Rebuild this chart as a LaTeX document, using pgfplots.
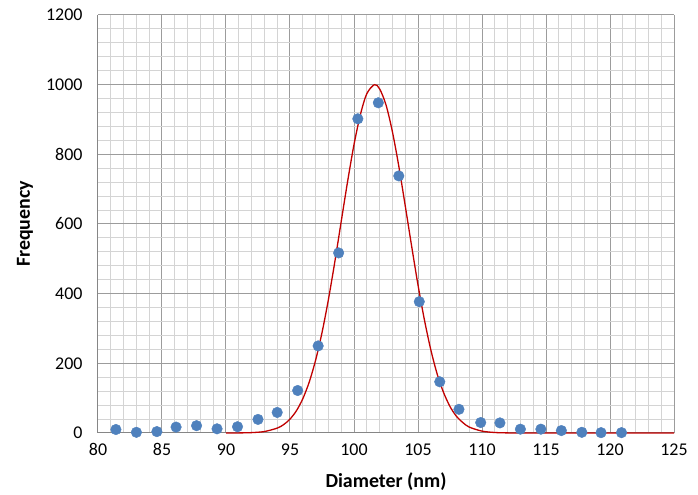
\documentclass[border=0pt]{standalone}
\usepackage{pgfplots}
\pgfplotsset{compat=1.18}
\usepackage{fontspec}
\setmainfont{Carlito}

\definecolor{dotblue}{HTML}{4F81BD}
\definecolor{fitred}{HTML}{C00000}
\definecolor{majgrid}{HTML}{9C9C9C}
\definecolor{mingrid}{HTML}{D4D4D4}
\definecolor{axisgray}{HTML}{868686}

\begin{document}
\begin{tikzpicture}
% page frame
\path (-98bp,-60bp) rectangle (600bp,433bp);
\begin{axis}[
  at={(0,0)}, anchor=south west,
  scale only axis,
  width=576bp, height=418bp,
  xmin=80, xmax=125, ymin=0, ymax=1200,
  xtick={80,85,...,125},
  ytick={0,200,...,1200},
  minor x tick num=4,
  minor y tick num=4,
  major tick length=0pt, minor tick length=0pt,
  grid=both,
  major grid style={majgrid, line width=1bp},
  minor grid style={mingrid, line width=1bp},
  axis x line*=bottom, axis y line*=left,
  axis line style={axisgray, line width=1bp, -},
  /pgf/number format/assume math mode=true,
  /pgf/number format/1000 sep={},
  ticklabel style={font=\fontsize{18}{21}\selectfont, text=black},
  xticklabel style={yshift=-7bp},
  yticklabel style={xshift=-12bp},
  xlabel={\textbf{Diameter (nm)}},
  ylabel={\textbf{Frequency}},
  label style={font=\fontsize{20}{24}\selectfont},
  xlabel style={at={(axis description cs:0.5,-0.1172)}, anchor=center},
  ylabel style={at={(axis description cs:-0.1267,0.5)}, anchor=center, rotate=0},
  clip=false,
]
% fitted distribution
\addplot[fitred, line width=1.3bp, smooth, no markers] coordinates {
  (90,0.05) (91,0.25) (92,1.1) (93,4.2) (94,14.0) (94.5,24.0) (95,39.9)
  (95.5,63.8) (96,98.3) (96.5,146) (97,209) (97.5,288) (98,383) (98.5,491)
  (99,607) (99.5,722) (100,828) (100.5,914) (101,974) (101.6,1000)
  (102,988) (102.5,942) (103,865) (103.5,766) (104,653) (104.5,537)
  (105,425) (105.5,325) (106,239) (106.5,169) (107,116) (107.5,76)
  (108,48) (108.5,30) (109,17) (110,5.4) (111,1.4) (112,0.3) (113,0.05)
  (115,0) (120,0) (125,0)
};
% measured frequencies
\addplot[only marks, mark=*, mark size=5.3bp, dotblue, mark options={draw=dotblue, fill=dotblue}] coordinates {
  (81.4,10) (83.0,2) (84.6,4) (86.1,17) (87.7,21) (89.3,12) (90.9,18)
  (92.5,39) (94.0,59) (95.6,122) (97.2,250) (98.8,517) (100.3,902)
  (101.9,948) (103.5,738) (105.1,377) (106.7,147) (108.2,68) (109.9,30)
  (111.4,29) (113.0,11) (114.6,11) (116.2,7) (117.8,2) (119.3,1) (120.9,1)
};
\end{axis}
\end{tikzpicture}
\end{document}
